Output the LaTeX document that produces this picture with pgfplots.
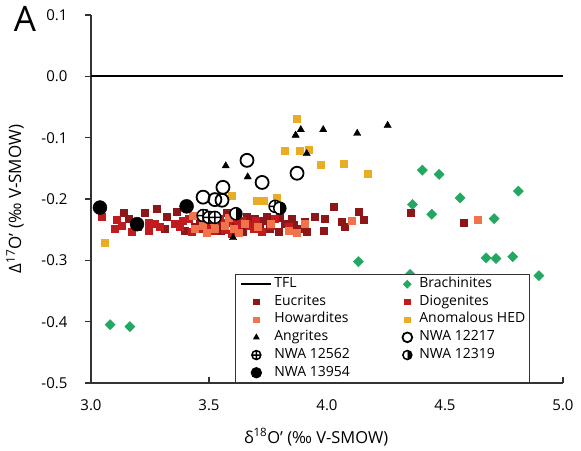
\documentclass[border=0pt]{standalone}
\usepackage{fontspec}
\setmainfont{Open Sans}
\usepackage{pgfplots}
\pgfplotsset{compat=1.18}
\usetikzlibrary{plotmarks}
\definecolor{eucr}{RGB}{140,22,24}
\definecolor{diog}{RGB}{192,28,32}
\definecolor{howa}{RGB}{240,115,75}
\definecolor{anom}{RGB}{234,172,36}
\definecolor{brach}{RGB}{34,168,96}
\pgfplotsset{
  leg1/.style={legend image code/.code={%
    \path[draw=none,fill=none] (0pt,0pt) -- (30pt,0pt);
    \draw[mark repeat=2,mark phase=2,##1,every mark/.append style={scale=0.75}]
      plot coordinates {(0pt,0pt)(15pt,0pt)(30pt,0pt)};}},
  leg2/.style={legend image code/.code={%
    \path[draw=none,fill=none] (0pt,0pt) -- (20pt,0pt);
    \draw[mark repeat=2,mark phase=2,##1,every mark/.append style={scale=0.75}]
      plot coordinates {(0pt,0pt)(10pt,0pt)(20pt,0pt)};}},
}
\newcommand{\la}[1]{\makebox[121pt][l]{#1}}
\newcommand{\lb}[1]{\makebox[103pt][l]{#1}}
\begin{document}
\begin{tikzpicture}[x=1pt,y=1pt]
\useasboundingbox (-91,-67) rectangle (490,383);
\begin{axis}[
  at={(0,0)}, anchor=south west,
  scale only axis, width=472pt, height=368pt,
  xmin=3, xmax=5, ymin=-0.5, ymax=0.1,
  axis x line*=bottom, axis y line*=left,
  axis line style={line width=1.1pt, black!80},
  xtick={3,3.5,4,4.5,5},
  ytick={-0.5,-0.4,-0.3,-0.2,-0.1,0,0.1},
  tick align=outside, major tick length=6pt,
  tick style={line width=1.1pt, black!80},
  xtick style={yshift=6pt},
  xticklabel style={yshift=-7pt},
  yticklabel style={xshift=-14pt},
  /pgf/number format/.cd, fixed, fixed zerofill, precision=1, assume math mode=true,
  /pgfplots/.cd,
  tick label style={font=\fontsize{15}{17}\selectfont},
  xlabel={δ\textsuperscript{18}O' (‰ V-SMOW)},
  ylabel={Δ\textsuperscript{17}O' (‰ V-SMOW)},
  every axis x label/.style={at={(axis description cs:0.477,-0.147)}, anchor=center,
    font=\fontsize{16.5}{18}\selectfont},
  every axis y label/.style={at={(axis description cs:-0.161,0.5)}, anchor=center, rotate=90,
    font=\fontsize{17}{19}\selectfont},
  clip=false,
  legend columns=2,
  legend cell align=left,
  legend style={at={(axis cs:3.61,-0.5)}, anchor=south west,
    draw=black!80, line width=0.8pt, fill=white,
    inner xsep=5pt, inner ysep=1pt, row sep=0pt,
    font=\fontsize{14}{16}\selectfont,
    nodes={inner xsep=2pt, inner ysep=2.1pt, text height=10pt, text depth=3.5pt}},
]
% TFL
\addplot[black, line width=2pt, legend image code/.code={\draw[black,line width=2pt] (0pt,0pt) -- (30pt,0pt);}]
  coordinates {(3,0) (5,0)};
\addlegendentry{\la{TFL}}
% Brachinites
\addplot[only marks, mark=square*, mark size=3.6pt, mark options={rotate=45, fill=brach, draw=brach}, leg2]
  coordinates {(3.081,-0.405) (3.165,-0.408) (4.404,-0.153) (4.475,-0.160) (4.564,-0.198)
  (4.811,-0.187) (4.362,-0.209) (4.444,-0.225) (4.708,-0.232) (4.674,-0.296) (4.716,-0.297)
  (4.787,-0.294) (4.352,-0.323) (4.898,-0.325) (4.133,-0.302)};
\addlegendentry{\lb{Brachinites}}
% Eucrites
\addplot[only marks, mark=square*, mark size=3.5pt, mark options={fill=eucr, draw=eucr}, leg1]
  coordinates {(3.137,-0.223) (3.229,-0.223) (3.278,-0.216) (3.363,-0.220) (3.158,-0.232)
  (3.314,-0.249) (3.398,-0.251) (3.476,-0.223) (3.575,-0.223) (3.660,-0.229) (3.695,-0.232)
  (3.744,-0.229) (3.850,-0.232) (3.907,-0.237) (3.914,-0.253) (3.949,-0.229) (3.992,-0.232)
  (3.984,-0.251) (4.027,-0.213) (4.062,-0.237) (4.076,-0.245) (4.133,-0.220) (4.154,-0.234)
  (3.758,-0.248) (3.794,-0.253) (3.878,-0.248) (3.822,-0.240) (3.716,-0.248) (3.644,-0.253)
  (3.603,-0.240) (3.525,-0.240) (3.441,-0.245) (3.547,-0.245) (4.354,-0.223) (4.580,-0.239)
  (3.610,-0.226) (3.680,-0.238) (3.730,-0.236) (3.460,-0.236) (3.550,-0.252) (3.800,-0.230)
  (3.860,-0.242) (3.320,-0.229) (3.200,-0.245)};
\addlegendentry{\la{Eucrites}}
% Diogenites
\addplot[only marks, mark=square*, mark size=3.5pt, mark options={fill=diog, draw=diog}, leg2]
  coordinates {(3.045,-0.229) (3.109,-0.234) (3.102,-0.249) (3.172,-0.253) (3.243,-0.238)
  (3.243,-0.251) (3.292,-0.245) (3.356,-0.240) (3.377,-0.245) (3.412,-0.232) (3.427,-0.253)
  (3.504,-0.243) (3.547,-0.232) (3.568,-0.250) (3.620,-0.245) (3.674,-0.243) (3.723,-0.253)
  (3.780,-0.232) (3.836,-0.245) (3.660,-0.240) (3.700,-0.236) (3.610,-0.232) (3.470,-0.248)
  (3.520,-0.252) (3.580,-0.238) (3.640,-0.236) (3.690,-0.248) (3.390,-0.236) (3.270,-0.240)
  (3.130,-0.243) (3.760,-0.244) (3.595,-0.257)};
\addlegendentry{\lb{Diogenites}}
% Howardites
\addplot[only marks, mark=square*, mark size=3.5pt, mark options={fill=howa, draw=howa}, leg1]
  coordinates {(3.441,-0.248) (3.475,-0.243) (3.568,-0.243) (3.525,-0.248) (3.603,-0.248)
  (3.625,-0.255) (3.650,-0.240) (3.705,-0.245) (3.836,-0.251) (3.907,-0.240) (4.105,-0.236)
  (4.637,-0.234) (3.520,-0.236) (3.762,-0.240) (3.870,-0.255) (3.430,-0.228) (3.490,-0.255)
  (3.585,-0.230)};
\addlegendentry{\la{Howardites}}
% Anomalous HED
\addplot[only marks, mark=square*, mark size=3.5pt, mark options={fill=anom, draw=anom}, leg2]
  coordinates {(3.871,-0.069) (3.822,-0.122) (3.883,-0.122) (3.924,-0.119) (3.975,-0.144)
  (4.072,-0.142) (4.171,-0.159) (3.059,-0.272) (3.596,-0.194) (3.702,-0.202) (3.733,-0.202)
  (3.787,-0.198)};
\addlegendentry{\lb{Anomalous HED}}
% Angrites
\addplot[only marks, mark=triangle*, mark size=4.2pt, mark options={fill=black, draw=black}, leg1]
  coordinates {(3.571,-0.146) (3.664,-0.164) (3.867,-0.096) (3.889,-0.087) (3.984,-0.087)
  (4.128,-0.093) (4.257,-0.080) (3.914,-0.126) (3.602,-0.263)};
\addlegendentry{\la{Angrites}}
% NWA 12217
\addplot[only marks, mark=o, mark size=6.5pt, mark options={draw=black, line width=1.8pt}, leg2]
  coordinates {(3.475,-0.197) (3.525,-0.201) (3.555,-0.202) (3.559,-0.181) (3.661,-0.137)
  (3.725,-0.173) (3.873,-0.158)};
\addlegendentry{\lb{NWA 12217}}
% NWA 12562
\addplot[only marks, mark=oplus*, mark size=6pt, mark options={draw=black, fill=white, line width=1.5pt}, leg1]
  coordinates {(3.475,-0.227) (3.500,-0.230) (3.525,-0.230) (3.780,-0.212)};
\addlegendentry{\la{NWA 12562}}
% NWA 12319
\addplot[only marks, mark=halfcircle*, mark size=6pt, mark options={draw=black, fill=black, line width=1.5pt, rotate=-90}, leg2]
  coordinates {(3.614,-0.224) (3.800,-0.215)};
\addlegendentry{\lb{NWA 12319}}
% NWA 13954
\addplot[only marks, mark=*, mark size=7pt, mark options={draw=black, fill=black}, leg1]
  coordinates {(3.038,-0.214) (3.195,-0.241) (3.405,-0.212)};
\addlegendentry{\la{NWA 13954}}
\node[font=\fontsize{35}{40}\selectfont, anchor=center] at (axis description cs:-0.140,0.988) {A};
\end{axis}
\end{tikzpicture}
\end{document}
